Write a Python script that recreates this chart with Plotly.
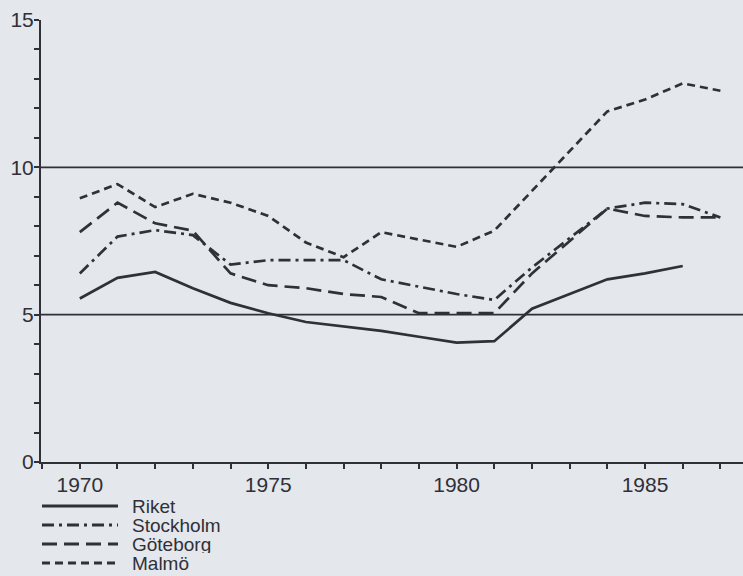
import plotly.graph_objects as go

years = list(range(1970, 1988))
series_names = ["Riket", "Stockholm", "Göteborg", "Malmö"]
riket = [5.55, 6.25, 6.45, 5.9, 5.4, 5.05, 4.75, 4.6, 4.45, 4.25, 4.05, 4.1, 5.2, 5.7, 6.2, 6.4, 6.65, None]
stockholm = [6.4, 7.65, 7.87, 7.7, 6.7, 6.85, 6.85, 6.85, 6.2, 5.95, 5.7, 5.5, 6.6, 7.6, 8.6, 8.8, 8.75, 8.3]
goteborg = [7.8, 8.8, 8.1, 7.85, 6.4, 6.0, 5.9, 5.7, 5.6, 5.05, 5.05, 5.05, 6.4, 7.5, 8.6, 8.35, 8.3, 8.3]
malmo = [8.95, 9.43, 8.65, 9.1, 8.8, 8.35, 7.45, 6.95, 7.8, 7.55, 7.3, 7.85, 9.2, 10.55, 11.9, 12.3, 12.85, 12.6]
x_tick_vals = [1970, 1975, 1980, 1985]
y_tick_vals = [0, 5, 10, 15]
ref_lines = [5, 10]

ink = "#303037"
bg = "#e4e7ec"
font = "Liberation Sans, Arial, sans-serif"
dashes = ["solid", "12px,5px,3px,5px", "15px,7px", "8px,5px"]
values = [riket, stockholm, goteborg, malmo]

fig = go.Figure()
for name, vals, dash in zip(series_names, values, dashes):
    fig.add_trace(go.Scatter(x=years, y=vals, mode="lines", name=name,
                             line=dict(color=ink, width=2.7, dash=dash),
                             connectgaps=False, showlegend=False, hoverinfo="skip"))

for v in ref_lines:
    fig.add_hline(y=v, line=dict(color=ink, width=1.6), layer="below")

# custom legend below the plot (long line samples as in the original)
L, T, W, H = 41, 20, 702, 442
def px2paper(px, py):
    return (px - L) / W, (T + H - py) / H
leg_y = [506, 525, 544, 563]
for name, dash, py in zip(series_names, dashes, leg_y):
    x0, y0 = px2paper(42, py)
    x1, _ = px2paper(118, py)
    fig.add_shape(type="line", xref="paper", yref="paper", x0=x0, x1=x1, y0=y0, y1=y0,
                  line=dict(color=ink, width=2.8, dash=dash))
    tx, _ = px2paper(131, py)
    fig.add_annotation(xref="paper", yref="paper", x=tx, y=y0, text=name, showarrow=False,
                       xanchor="left", yanchor="middle", height=18, borderpad=0,
                       font=dict(family=font, size=19, color=ink))

fig.update_layout(
    width=743, height=576,
    margin=dict(l=L, r=0, t=T, b=576 - T - H),
    paper_bgcolor=bg, plot_bgcolor=bg,
    font=dict(family=font, size=21, color=ink),
    xaxis=dict(range=[1968.97, 1987.6], tickvals=x_tick_vals, ticks="outside", ticklen=5,
               tickwidth=1.5, tickcolor=ink, showgrid=False, zeroline=False,
               showline=True, linecolor=ink, linewidth=2,
               minor=dict(dtick=1, ticks="outside", ticklen=5, tickwidth=1.5, tickcolor=ink),
               ticklabelstandoff=-2, tickfont=dict(size=21)),
    yaxis=dict(range=[0, 15], tickvals=y_tick_vals, ticks="outside", ticklen=5,
               tickwidth=1.5, tickcolor=ink, showgrid=False, zeroline=False,
               showline=True, linecolor=ink, linewidth=2,
               minor=dict(dtick=1, ticks="outside", ticklen=5, tickwidth=1.5, tickcolor=ink),
               ticklabelstandoff=-4, tickfont=dict(size=21)),
)

fig.write_html("out.html", config={"displayModeBar": False},
               post_script="document.body.style.margin='0';document.body.style.overflow='hidden';document.body.style.background='%s';" % bg)
